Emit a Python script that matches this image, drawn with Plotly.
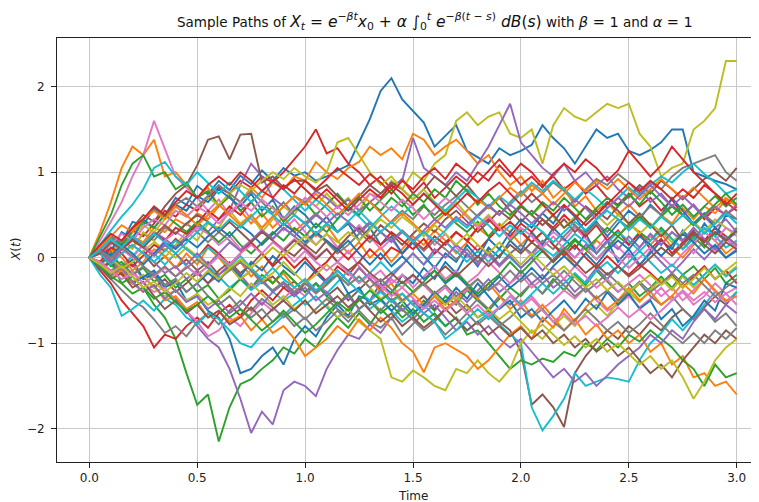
import plotly.graph_objects as go

# Time grid (read at 0.05 steps)
times = [0.0, 0.05, 0.1, 0.15, 0.2, 0.25, 0.3, 0.35, 0.4, 0.45,
         0.5, 0.55, 0.6, 0.65, 0.7, 0.75, 0.8, 0.85, 0.9, 0.95,
         1.0, 1.05, 1.1, 1.15, 1.2, 1.25, 1.3, 1.35, 1.4, 1.45,
         1.5, 1.55, 1.6, 1.65, 1.7, 1.75, 1.8, 1.85, 1.9, 1.95,
         2.0, 2.05, 2.1, 2.15, 2.2, 2.25, 2.3, 2.35, 2.4, 2.45,
         2.5, 2.55, 2.6, 2.65, 2.7, 2.75, 2.8, 2.85, 2.9, 2.95, 3.0]

# ---- sample paths, values ----
blue_a = [0, 0.12, 0.25, 0.18, 0.42, 0.38, 0.58, 0.49, 0.7, 0.62,
          0.84, 0.74, 0.9, 0.79, 0.96, 0.86, 1.02, 0.9, 1.05, 0.96,
          1.0, 0.9, 0.95, 1.02, 1.08, 1.35, 1.62, 1.95, 2.1, 1.85,
          1.72, 1.58, 1.3, 1.42, 1.55, 1.25, 1.18, 1.1, 1.28, 1.2,
          1.25, 1.32, 1.55, 1.4, 1.28, 1.1, 1.3, 1.5, 1.4, 1.45,
          1.25, 1.2, 1.26, 1.35, 1.5, 1.5, 1.0, 0.95, 0.9, 0.86, 0.8]
orange_a = [0, 0.3, 0.65, 1.05, 1.3, 1.2, 1.38, 0.95, 1.0, 0.85,
            0.7, 0.82, 0.6, 0.72, 0.55, 0.4, 0.52, 0.35, 0.48, 0.3,
            0.42, 0.25, 0.38, 0.2, 0.05, 0.18, 0.0, 0.12, -0.05, 0.1,
            0.25, 0.15, 0.32, 0.2, 0.05, 0.18, 0.35, 0.25, 0.4, 0.3,
            0.15, 0.28, 0.1, -0.05, 0.08, -0.1, 0.05, 0.2, 0.1, 0.25,
            0.4, 0.3, 0.15, 0.28, 0.12, 0.0, 0.15, 0.3, 0.2, 0.05, 0.15]
green_a = [0, -0.15, -0.05, -0.3, -0.42, -0.35, -0.55, -0.7, -0.95, -1.35,
           -1.72, -1.6, -2.15, -1.75, -1.48, -1.42, -1.3, -1.2, -1.05, -1.12,
           -0.95, -1.05, -0.85, -0.7, -0.82, -0.65, -0.78, -0.6, -0.72, -0.55,
           -0.68, -0.5, -0.62, -0.45, -0.55, -0.38, -0.5, -0.62, -0.48, -0.35,
           -0.45, -0.3, -0.42, -0.25, -0.38, -0.2, -0.32, -0.15, -0.28, -0.4,
           -0.3, -0.45, -0.35, -0.22, -0.35, -0.2, -0.1, -0.25, -0.12, -0.3, -0.2]
red_a = [0, 0.12, 0.05, 0.2, 0.32, 0.25, 0.4, 0.55, 0.48, 0.62,
         0.55, 0.7, 0.82, 0.75, 0.9, 0.82, 0.95, 0.88, 1.0, 1.15,
         1.3, 1.5, 1.22, 1.28, 1.1, 1.0, 0.85, 0.95, 0.8, 0.92,
         0.75, 0.88, 0.7, 0.82, 0.95, 0.85, 1.0, 0.9, 1.08, 0.95,
         1.1, 1.0, 0.85, 0.95, 0.8, 0.9, 0.75, 0.85, 0.7, 0.62,
         0.75, 0.6, 0.7, 0.55, 0.68, 0.5, 0.62, 0.45, 0.58, 0.5, 0.6]
purple_a = [0, -0.1, 0.05, -0.15, -0.08, -0.25, -0.2, -0.4, -0.48, -0.62,
            -0.8, -0.95, -1.05, -1.3, -1.65, -2.05, -1.8, -1.95, -1.55, -1.45,
            -1.5, -1.62, -1.3, -1.08, -0.9, -0.95, -0.78, -0.88, -0.7, -0.6,
            -0.72, -0.58, -0.45, -0.55, -0.4, -0.52, -0.38, -0.25, -0.4, -0.3,
            -0.15, -0.3, -0.2, -0.35, -0.25, -0.4, -0.28, -0.12, -0.25, -0.1,
            0.05, -0.1, 0.08, -0.05, -0.18, -0.05, 0.1, -0.02, 0.12, 0.0, 0.1]
brown_a = [0, 0.05, -0.08, 0.05, 0.15, 0.05, -0.1, 0.02, -0.12, -0.02,
           -0.15, -0.05, -0.2, -0.1, -0.25, -0.15, -0.3, -0.22, -0.35, -0.28,
           -0.4, -0.3, -0.45, -0.35, -0.5, -0.38, -0.25, -0.38, -0.5, -0.42,
           -0.55, -0.45, -0.6, -0.5, -0.65, -0.55, -0.7, -0.62, -0.75, -0.85,
           -1.1, -1.72, -1.6, -1.75, -1.98, -1.35, -1.15, -1.0, -0.85, -0.95,
           -0.8, -0.9, -0.75, -0.85, -0.7, -0.6, -0.72, -0.58, -0.45, -0.55, -0.4]
pink_a = [0, 0.2, 0.42, 0.65, 0.95, 1.2, 1.6, 1.28, 0.95, 0.82,
          0.7, 0.55, 0.68, 0.5, 0.62, 0.45, 0.35, 0.48, 0.32, 0.45,
          0.3, 0.15, 0.28, 0.12, 0.25, 0.38, 0.25, 0.1, 0.22, 0.05,
          0.18, 0.3, 0.15, 0.28, 0.12, 0.0, 0.15, 0.02, -0.1, 0.05,
          0.15, 0.02, 0.18, 0.3, 0.2, 0.35, 0.22, 0.1, 0.25, 0.12,
          0.0, 0.12, 0.25, 0.15, 0.3, 0.18, 0.05, 0.2, 0.08, 0.22, 0.12]
gray_a = [0, -0.05, 0.08, 0.2, 0.12, 0.28, 0.2, 0.35, 0.28, 0.4,
          0.3, 0.18, 0.3, 0.2, 0.08, 0.2, 0.32, 0.22, 0.35, 0.25,
          0.15, 0.28, 0.18, 0.05, 0.15, 0.28, 0.4, 0.3, 0.42, 0.55,
          0.45, 0.6, 0.5, 0.62, 0.72, 0.6, 0.48, 0.6, 0.5, 0.65,
          0.78, 0.65, 0.75, 0.88, 0.78, 0.65, 0.8, 0.92, 0.85, 0.98,
          0.88, 0.75, 0.88, 0.8, 0.95, 1.05, 1.1, 1.15, 1.2, 1.0, 0.9]
olive_a = [0, -0.1, 0.05, 0.2, 0.1, 0.3, 0.2, 0.0, 0.15, 0.3,
           0.2, 0.4, 0.35, 0.55, 0.4, 0.5, 0.3, 0.45, 0.6, 0.5,
           0.7, 0.6, 0.75, 0.6, 0.7, 0.55, 0.75, 0.7, 0.9, 0.8,
           1.0, 0.9, 1.1, 1.2, 1.6, 1.7, 1.55, 1.65, 1.7, 1.45,
           1.4, 1.5, 1.1, 1.55, 1.75, 1.65, 1.6, 1.7, 1.8, 1.75,
           1.8, 1.45, 1.3, 0.95, 1.05, 1.1, 1.5, 1.6, 1.75, 2.3, 2.3]
cyan_a = [0, -0.08, 0.05, -0.1, 0.02, 0.15, 0.05, -0.08, 0.05, -0.1,
          -0.2, -0.1, -0.22, -0.35, -0.25, -0.38, -0.28, -0.4, -0.5, -0.42,
          -0.55, -0.45, -0.58, -0.7, -0.6, -0.48, -0.6, -0.5, -0.62, -0.75,
          -0.65, -0.55, -0.68, -0.8, -0.7, -0.85, -0.75, -0.65, -0.78, -0.9,
          -1.0, -1.75, -2.02, -1.85, -1.65, -1.35, -1.5, -1.45, -1.4, -1.42,
          -1.45, -1.2, -1.0, -0.88, -0.72, -0.85, -0.7, -0.55, -0.4, -0.52, -0.4]

blue_b = [0, -0.08, 0.05, -0.12, -0.02, -0.25, -0.18, -0.35, -0.28, -0.5,
          -0.45, -0.62, -0.7, -0.95, -1.35, -1.3, -1.15, -1.05, -1.25, -0.95,
          -0.8, -0.92, -0.7, -0.55, -0.68, -0.45, -0.5, -0.3, -0.42, -0.2,
          -0.3, -0.12, -0.25, -0.05, -0.18, 0.05, -0.1, 0.12, 0.0, 0.2,
          0.08, 0.3, 0.15, 0.35, 0.22, 0.1, 0.28, 0.05, 0.2, -0.05,
          0.1, -0.08, 0.05, 0.2, 0.1, 0.32, 0.18, 0.4, 0.25, 0.5, 0.45]
orange_b = [0, 0.1, -0.05, 0.15, 0.25, 0.18, 0.35, 0.3, 0.45, 0.38,
            0.52, 0.45, 0.6, 0.75, 0.65, 0.82, 0.7, 0.88, 0.8, 0.95,
            0.9, 1.12, 1.0, 0.92, 1.05, 1.12, 1.3, 1.2, 1.28, 1.15,
            1.45, 1.38, 1.2, 1.3, 1.38, 1.25, 1.1, 1.2, 1.0, 0.85,
            0.95, 0.78, 0.9, 0.7, 0.82, 0.6, 0.72, 0.55, 0.65, 0.5,
            0.62, 0.48, 0.35, 0.5, 0.4, 0.58, 0.45, 0.6, 0.52, 0.68, 0.62]
green_b = [0, 0.25, 0.5, 0.85, 1.1, 1.2, 0.95, 1.0, 0.8, 0.88,
           0.7, 0.78, 0.6, 0.72, 0.55, 0.65, 0.48, 0.6, 0.42, 0.55,
           0.65, 0.5, 0.62, 0.75, 0.6, 0.7, 0.55, 0.68, 0.8, 0.65,
           0.5, 0.62, 0.45, 0.55, 0.4, 0.3, 0.42, 0.25, 0.38, 0.2,
           0.32, 0.18, 0.3, 0.15, 0.05, 0.2, 0.1, -0.02, 0.12, 0.25,
           0.15, 0.3, 0.2, 0.35, 0.22, 0.1, 0.25, 0.12, 0.3, 0.2, 0.35]
red_b = [0, -0.15, -0.3, -0.5, -0.65, -0.8, -1.05, -0.9, -0.95, -0.8,
         -0.7, -0.82, -0.65, -0.55, -0.68, -0.5, -0.38, -0.5, -0.35, -0.45,
         -0.3, -0.15, -0.28, -0.1, -0.2, -0.05, 0.1, -0.02, 0.12, 0.05,
         0.2, 0.1, 0.25, 0.15, 0.3, 0.2, 0.08, 0.22, 0.35, 0.25,
         0.4, 0.3, 0.45, 0.35, 0.5, 0.38, 0.25, 0.38, 0.2, 0.32,
         0.15, 0.28, 0.1, 0.22, 0.05, 0.18, 0.3, 0.2, 0.35, 0.25, 0.15]
purple_b = [0, 0.05, 0.18, 0.1, 0.25, 0.15, 0.3, 0.22, 0.12, 0.25,
            0.38, 0.3, 0.45, 0.55, 0.85, 1.1, 0.95, 0.7, 0.6, 0.72,
            0.65, 0.78, 0.7, 0.58, 0.68, 0.55, 0.65, 0.75, 0.85, 0.9,
            1.4, 1.05, 0.95, 0.85, 1.0, 0.9, 1.1, 1.3, 1.55, 1.8,
            1.35, 1.2, 1.05, 0.95, 1.1, 0.9, 1.0, 0.85, 0.95, 0.8,
            0.7, 0.82, 0.65, 0.75, 0.6, 0.5, 0.62, 0.48, 0.35, 0.45, 0.3]
brown_b = [0, 0.12, 0.25, 0.15, 0.35, 0.5, 0.42, 0.6, 0.75, 0.85,
           1.08, 1.38, 1.42, 1.15, 1.44, 1.45, 0.88, 0.95, 0.82, 0.9,
           0.9, 0.78, 0.85, 0.72, 0.6, 0.72, 0.85, 0.75, 0.88, 0.8,
           0.68, 0.8, 0.95, 0.85, 0.72, 0.85, 0.7, 0.58, 0.7, 0.55,
           0.42, 0.55, 0.45, 0.32, 0.45, 0.3, 0.42, 0.55, 0.45, 0.6,
           0.72, 0.85, 0.75, 0.9, 0.8, 0.68, 0.8, 0.92, 1.0, 0.9, 1.05]
pink_b = [0, -0.1, -0.05, -0.2, -0.15, -0.3, -0.4, -0.35, -0.5, -0.62,
          -0.75, -0.92, -0.85, -0.7, -0.8, -0.65, -0.52, -0.62, -0.48, -0.35,
          -0.45, -0.3, -0.4, -0.55, -0.42, -0.6, -0.5, -0.38, -0.25, -0.35,
          -0.2, -0.32, -0.45, -0.35, -0.5, -0.38, -0.25, -0.38, -0.3, -0.42,
          -0.55, -0.45, -0.6, -0.5, -0.38, -0.48, -0.35, -0.5, -0.62, -0.55,
          -0.45, -0.58, -0.48, -0.35, -0.5, -0.4, -0.55, -0.45, -0.3, -0.42, -0.35]
gray_b = [0, -0.12, -0.25, -0.38, -0.5, -0.58, -0.72, -0.88, -0.8, -0.92,
          -0.75, -0.65, -0.78, -0.62, -0.5, -0.62, -0.48, -0.58, -0.7, -0.6,
          -0.72, -0.6, -0.48, -0.6, -0.7, -0.62, -0.75, -0.82, -0.7, -0.9,
          -0.78, -0.65, -0.75, -0.6, -0.5, -0.62, -0.48, -0.6, -0.45, -0.55,
          -0.42, -0.3, -0.42, -0.28, -0.15, -0.28, -0.4, -0.3, -0.18, -0.3,
          -0.42, -0.3, -0.45, -0.55, -0.45, -0.6, -0.72, -0.6, -0.75, -0.65, -0.8]
olive_b = [0, 0.08, 0.18, 0.1, 0.25, 0.38, 0.3, 0.45, 0.55, 0.48,
           0.6, 0.7, 0.62, 0.75, 0.85, 0.78, 0.9, 1.0, 0.92, 1.05,
           0.95, 0.88, 1.0, 1.35, 1.4, 1.2, 1.0, 0.85, 0.95, 0.8,
           0.68, 0.8, 0.65, 0.52, 0.65, 0.5, 0.38, 0.5, 0.35, 0.48,
           0.6, 0.5, 0.62, 0.48, 0.35, 0.48, 0.6, 0.5, 0.38, 0.5,
           0.4, 0.28, 0.4, 0.3, 0.18, 0.3, 0.42, 0.3, 0.45, 0.35, 0.25]
cyan_b = [0, -0.2, -0.35, -0.68, -0.6, -0.5, -0.62, -0.48, -0.55, -0.7,
          -0.78, -0.65, -0.72, -0.85, -1.0, -1.05, -0.9, -0.8, -0.68, -0.55,
          -0.45, -0.3, -0.42, -0.28, -0.15, -0.28, -0.18, -0.05, -0.18, -0.08,
          0.05, -0.08, 0.05, 0.18, 0.08, -0.05, 0.08, -0.05, 0.1, 0.0,
          -0.12, 0.0, 0.12, 0.02, 0.15, 0.28, 0.18, 0.05, 0.18, 0.3,
          0.2, 0.08, 0.2, 0.32, 0.22, 0.1, 0.22, 0.35, 0.25, 0.12, 0.2]

blue_c = [0, 0.15, 0.08, 0.3, 0.22, 0.45, 0.35, 0.5, 0.62, 0.55,
          0.72, 0.65, 0.8, 0.7, 0.6, 0.75, 0.55, 0.68, 0.45, 0.6,
          0.5, 0.35, 0.48, 0.3, 0.4, 0.2, 0.35, 0.15, 0.25, 0.05,
          0.18, 0.02, -0.12, 0.05, -0.05, 0.15, 0.0, 0.22, 0.1, 0.3,
          0.45, 0.35, 0.52, 0.4, 0.6, 0.48, 0.3, 0.42, 0.25, 0.4,
          0.55, 0.45, 0.62, 0.5, 0.7, 0.55, 0.4, 0.52, 0.35, 0.2, 0.3]
orange_c = [0, -0.05, 0.1, 0.0, -0.15, -0.05, 0.1, 0.02, -0.12, 0.05,
            -0.08, 0.12, 0.0, -0.15, -0.05, -0.22, -0.1, -0.3, -0.18, -0.35,
            -0.25, -0.4, -0.3, -0.15, -0.28, -0.12, -0.25, -0.4, -0.3, -0.5,
            -0.42, -0.55, -0.45, -0.6, -0.5, -0.35, -0.48, -0.3, -0.45, -0.6,
            -0.5, -0.68, -0.55, -0.7, -0.85, -0.72, -0.9, -0.78, -0.95, -0.85,
            -1.0, -0.9, -1.1, -1.0, -1.25, -1.15, -1.4, -1.35, -1.5, -1.45, -1.6]
green_c = [0, 0.05, -0.1, -0.05, -0.2, -0.12, -0.28, -0.2, -0.35, -0.25,
           -0.4, -0.32, -0.48, -0.38, -0.25, -0.35, -0.2, -0.3, -0.15, -0.28,
           -0.4, -0.3, -0.45, -0.55, -0.42, -0.6, -0.5, -0.65, -0.55, -0.7,
           -0.6, -0.75, -0.65, -0.8, -0.7, -0.9, -0.85, -1.0, -1.15, -1.3,
           -1.2, -1.25, -1.18, -1.22, -1.1, -1.15, -1.0, -1.08, -0.95, -1.05,
           -0.9, -0.98, -0.85, -0.95, -1.05, -1.2, -1.3, -1.5, -1.25, -1.4, -1.35]
red_c = [0, 0.08, -0.05, 0.1, 0.2, 0.12, 0.28, 0.2, 0.35, 0.28,
         0.4, 0.55, 0.45, 0.6, 0.5, 0.65, 0.78, 0.7, 0.85, 0.75,
         0.9, 0.8, 0.92, 1.05, 0.95, 0.85, 0.98, 0.88, 0.75, 0.9,
         0.8, 0.95, 1.05, 0.92, 1.1, 1.0, 0.88, 1.02, 1.15, 1.0,
         0.85, 0.95, 0.82, 0.98, 1.1, 1.0, 1.15, 1.05, 0.9, 1.02,
         1.25, 1.1, 0.95, 1.08, 1.3, 1.15, 1.0, 0.88, 0.75, 0.65, 0.55]
purple_c = [0, 0.1, -0.02, -0.15, -0.05, 0.08, -0.05, -0.18, -0.1, -0.25,
            -0.15, -0.3, -0.2, -0.08, -0.2, -0.35, -0.25, -0.4, -0.3, -0.45,
            -0.35, -0.5, -0.4, -0.55, -0.45, -0.6, -0.5, -0.38, -0.5, -0.62,
            -0.5, -0.65, -0.55, -0.7, -0.85, -0.75, -0.9, -0.8, -0.95, -1.05,
            -0.95, -1.1, -1.25, -1.4, -1.3, -1.45, -1.35, -1.5, -1.38, -1.25,
            -1.15, -1.05, -0.9, -1.0, -0.85, -0.95, -0.75, -0.6, -0.72, -0.55, -0.65]
brown_c = [0, -0.12, -0.05, -0.2, -0.3, -0.22, -0.35, -0.25, -0.4, -0.3,
           -0.18, -0.3, -0.15, -0.05, -0.18, -0.08, 0.05, -0.08, 0.1, 0.02,
           0.15, 0.05, 0.2, 0.1, 0.25, 0.35, 0.22, 0.38, 0.28, 0.15,
           0.28, 0.4, 0.3, 0.45, 0.55, 0.42, 0.3, 0.42, 0.55, 0.45,
           0.6, 0.5, 0.38, 0.5, 0.35, 0.45, 0.6, 0.5, 0.65, 0.55,
           0.4, 0.52, 0.38, 0.25, 0.38, 0.2, 0.32, 0.15, 0.05, 0.18, 0.1]
pink_c = [0, 0.08, 0.2, 0.1, 0.0, 0.15, 0.05, 0.2, 0.3, 0.22,
          0.35, 0.28, 0.15, 0.25, 0.1, 0.2, 0.32, 0.2, 0.1, 0.22,
          0.12, 0.0, 0.1, -0.05, 0.08, -0.1, -0.25, -0.15, -0.3, -0.2,
          -0.35, -0.22, -0.1, -0.25, -0.15, -0.3, -0.2, -0.05, -0.18, -0.3,
          -0.2, -0.35, -0.25, -0.12, -0.25, -0.1, -0.22, -0.35, -0.25, -0.4,
          -0.3, -0.2, -0.32, -0.45, -0.35, -0.5, -0.38, -0.25, -0.4, -0.52, -0.45]
gray_c = [0, 0.1, 0.25, 0.18, 0.32, 0.45, 0.55, 0.48, 0.62, 0.7,
          0.6, 0.72, 0.85, 0.75, 0.65, 0.78, 0.65, 0.52, 0.65, 0.5,
          0.4, 0.52, 0.4, 0.3, 0.42, 0.3, 0.18, 0.3, 0.2, 0.32,
          0.2, 0.08, 0.2, 0.1, -0.02, 0.1, -0.05, 0.08, -0.08, 0.05,
          0.15, 0.05, 0.2, 0.1, 0.25, 0.38, 0.28, 0.4, 0.3, 0.45,
          0.35, 0.48, 0.6, 0.5, 0.62, 0.5, 0.38, 0.5, 0.4, 0.55, 0.45]
olive_c = [0, -0.1, -0.2, -0.12, -0.28, -0.2, -0.35, -0.45, -0.38, -0.5,
           -0.42, -0.55, -0.48, -0.35, -0.45, -0.3, -0.42, -0.55, -0.45, -0.6,
           -0.5, -0.65, -0.55, -0.7, -0.6, -0.75, -0.85, -0.95, -1.4, -1.45,
           -1.32, -1.4, -1.5, -1.55, -1.3, -1.35, -1.2, -1.35, -1.45, -1.3,
           -1.0, -0.85, -0.95, -0.8, -0.68, -0.8, -0.65, -0.55, -0.68, -0.52,
           -0.4, -0.52, -0.38, -0.25, -0.38, -0.22, -0.35, -0.2, -0.08, -0.2, -0.1]
cyan_c = [0, 0.15, 0.32, 0.48, 0.62, 0.8, 1.05, 1.12, 0.95, 0.85,
          1.0, 0.88, 0.75, 0.88, 0.78, 0.65, 0.78, 0.9, 0.8, 0.68,
          0.55, 0.68, 0.58, 0.45, 0.58, 0.48, 0.35, 0.48, 0.6, 0.5,
          0.62, 0.75, 0.65, 0.55, 0.68, 0.8, 0.7, 0.6, 0.72, 0.62,
          0.75, 0.88, 0.78, 0.9, 0.8, 0.68, 0.8, 0.7, 0.58, 0.7,
          0.82, 0.72, 0.85, 0.95, 0.88, 1.0, 1.1, 0.98, 0.88, 0.75, 0.8]

blue_d = [0, -0.12, -0.2, -0.1, -0.3, -0.22, -0.15, -0.32, -0.25, -0.4,
          -0.3, -0.18, -0.28, -0.1, -0.22, -0.05, -0.15, 0.02, -0.1, -0.2,
          -0.05, -0.18, -0.3, -0.2, -0.42, -0.35, -0.55, -0.48, -0.62, -0.5,
          -0.65, -0.55, -0.4, -0.52, -0.35, -0.48, -0.3, -0.45, -0.6, -0.5,
          -0.7, -0.6, -0.75, -0.62, -0.5, -0.65, -0.48, -0.6, -0.4, -0.55,
          -0.42, -0.6, -0.5, -0.72, -0.6, -0.8, -0.68, -0.5, -0.62, -0.3, -0.35]
orange_d = [0, -0.1, -0.22, -0.15, -0.3, -0.4, -0.32, -0.5, -0.45, -0.6,
            -0.52, -0.7, -0.62, -0.75, -0.68, -0.85, -0.72, -0.88, -0.8, -0.95,
            -1.15, -1.05, -0.95, -0.8, -0.9, -0.72, -0.85, -0.7, -0.82, -1.0,
            -1.1, -1.34, -1.05, -1.0, -1.08, -1.15, -1.3, -1.2, -1.05, -0.9,
            -0.8, -0.95, -0.7, -0.82, -0.6, -0.75, -0.58, -0.45, -0.6, -0.5,
            -0.35, -0.5, -0.4, -0.55, -0.45, -0.3, -0.42, -0.25, -0.38, -0.5, -0.45]
green_d = [0, 0.1, 0.22, 0.15, 0.3, 0.42, 0.35, 0.5, 0.4, 0.3,
           0.42, 0.3, 0.18, 0.3, 0.15, 0.05, 0.18, 0.3, 0.2, 0.35,
           0.25, 0.4, 0.3, 0.45, 0.6, 0.5, 0.65, 0.55, 0.7, 0.6,
           0.75, 0.65, 0.8, 0.7, 0.9, 0.78, 0.62, 0.75, 0.6, 0.5,
           0.62, 0.5, 0.65, 0.55, 0.7, 0.58, 0.45, 0.58, 0.7, 0.6,
           0.75, 0.62, 0.78, 0.65, 0.5, 0.62, 0.48, 0.6, 0.72, 0.6, 0.7]
red_d = [0, -0.05, 0.12, 0.05, -0.1, 0.02, 0.15, 0.08, 0.22, 0.1,
         0.0, 0.15, 0.05, -0.08, 0.05, 0.18, 0.05, -0.1, 0.02, -0.12,
         0.0, -0.15, -0.05, 0.1, -0.02, 0.12, 0.25, 0.15, 0.3, 0.2,
         0.1, 0.22, 0.05, 0.18, 0.3, 0.2, 0.35, 0.45, 0.32, 0.42,
         0.3, 0.18, 0.3, 0.15, 0.02, 0.15, 0.0, -0.12, 0.02, -0.1,
         -0.2, -0.08, -0.18, -0.3, -0.2, -0.35, -0.22, -0.1, -0.25, -0.15, -0.3]
purple_d = [0, -0.08, -0.2, -0.12, -0.28, -0.4, -0.32, -0.48, -0.38, -0.52,
            -0.45, -0.6, -0.5, -0.65, -0.55, -0.42, -0.55, -0.4, -0.3, -0.42,
            -0.28, -0.4, -0.25, -0.15, -0.28, -0.12, -0.25, -0.35, -0.22, -0.08,
            0.05, -0.08, 0.1, 0.0, 0.15, 0.05, -0.08, 0.05, -0.1, 0.02,
            -0.12, 0.0, -0.15, -0.02, 0.12, 0.0, 0.15, 0.05, 0.2, 0.1,
            0.25, 0.12, 0.28, 0.15, 0.3, 0.2, 0.35, 0.22, 0.1, 0.25, 0.15]
brown_d = [0, -0.1, -0.25, -0.18, -0.35, -0.28, -0.45, -0.6, -0.5, -0.65,
           -0.55, -0.7, -0.62, -0.78, -0.7, -0.58, -0.72, -0.6, -0.5, -0.62,
           -0.5, -0.65, -0.55, -0.45, -0.58, -0.48, -0.62, -0.75, -0.65, -0.8,
           -0.7, -0.82, -0.72, -0.6, -0.72, -0.85, -0.75, -0.9, -0.8, -0.92,
           -0.82, -0.95, -0.85, -1.0, -0.9, -1.05, -0.95, -1.1, -1.0, -1.15,
           -1.05, -1.2, -1.35, -1.25, -1.4, -1.2, -1.05, -0.9, -1.0, -0.85, -0.95]
pink_d = [0, 0.05, 0.15, 0.28, 0.2, 0.35, 0.45, 0.38, 0.55, 0.48,
          0.6, 0.52, 0.4, 0.52, 0.65, 0.55, 0.68, 0.58, 0.45, 0.58,
          0.7, 0.6, 0.48, 0.6, 0.5, 0.62, 0.75, 0.65, 0.55, 0.68,
          0.58, 0.45, 0.58, 0.7, 0.6, 0.48, 0.35, 0.48, 0.35, 0.22,
          0.35, 0.25, 0.12, 0.25, 0.1, 0.0, 0.12, -0.02, 0.1, 0.0,
          -0.12, 0.0, 0.12, 0.02, -0.1, 0.05, 0.18, 0.3, 0.2, 0.35, 0.28]
gray_d = [0, -0.05, -0.15, -0.08, -0.2, -0.1, -0.22, -0.32, -0.25, -0.4,
          -0.3, -0.45, -0.55, -0.45, -0.6, -0.7, -0.6, -0.75, -0.65, -0.8,
          -0.7, -0.85, -0.75, -0.62, -0.75, -0.6, -0.5, -0.62, -0.48, -0.6,
          -0.72, -0.85, -0.75, -0.9, -0.78, -0.65, -0.78, -0.68, -0.8, -0.7,
          -0.58, -0.7, -0.6, -0.75, -0.85, -0.72, -0.6, -0.72, -0.85, -0.75,
          -0.88, -0.78, -0.65, -0.78, -0.9, -1.0, -0.88, -1.0, -0.85, -0.95, -0.82]
olive_d = [0, 0.1, 0.0, -0.12, -0.05, 0.08, 0.18, 0.1, 0.0, 0.12,
           0.02, -0.1, 0.02, -0.12, -0.25, -0.15, -0.28, -0.18, -0.05, -0.18,
           -0.3, -0.2, -0.08, -0.2, -0.32, -0.22, -0.35, -0.48, -0.4, -0.52,
           -0.42, -0.3, -0.42, -0.55, -0.45, -0.58, -0.7, -0.6, -0.72, -0.62,
           -0.75, -0.88, -0.78, -0.9, -1.02, -0.92, -1.05, -0.95, -1.1, -1.0,
           -1.12, -1.25, -1.15, -1.3, -1.2, -1.4, -1.65, -1.45, -1.2, -1.05, -0.95]
cyan_d = [0, 0.05, -0.08, 0.05, 0.15, 0.05, -0.05, 0.08, 0.2, 0.1,
          0.0, 0.12, 0.02, -0.1, 0.02, -0.12, -0.25, -0.12, -0.25, -0.35,
          -0.25, -0.38, -0.28, -0.15, -0.28, -0.4, -0.5, -0.4, -0.52, -0.42,
          -0.55, -0.65, -0.75, -0.95, -0.85, -0.72, -0.6, -0.72, -0.58, -0.45,
          -0.55, -0.42, -0.3, -0.42, -0.3, -0.18, -0.3, -0.15, -0.05, -0.18,
          -0.05, 0.08, -0.05, -0.18, -0.08, -0.2, -0.32, -0.2, -0.08, -0.22, -0.12]

blue_e = [0, 0.1, 0.02, 0.15, 0.05, -0.08, 0.05, 0.18, 0.1, 0.22,
          0.12, 0.25, 0.35, 0.25, 0.38, 0.28, 0.15, 0.28, 0.4, 0.3,
          0.18, 0.3, 0.2, 0.08, 0.2, 0.05, -0.08, 0.05, -0.1, 0.02,
          -0.12, -0.25, -0.15, -0.3, -0.2, -0.32, -0.45, -0.35, -0.22, -0.35,
          -0.25, -0.12, -0.25, -0.1, 0.02, -0.1, 0.05, -0.08, 0.08, 0.2,
          0.1, 0.25, 0.15, 0.02, 0.15, 0.28, 0.18, 0.05, 0.15, 0.0, 0.08]
orange_e = [0, 0.12, 0.25, 0.38, 0.3, 0.45, 0.55, 0.45, 0.6, 0.5,
            0.38, 0.5, 0.62, 0.5, 0.38, 0.5, 0.35, 0.48, 0.6, 0.72,
            0.62, 0.75, 0.62, 0.5, 0.62, 0.75, 0.65, 0.52, 0.4, 0.52,
            0.4, 0.28, 0.4, 0.52, 0.42, 0.55, 0.68, 0.58, 0.7, 0.82,
            0.72, 0.85, 0.75, 0.62, 0.75, 0.88, 0.78, 0.9, 0.8, 0.92,
            0.8, 0.68, 0.8, 0.92, 0.8, 0.7, 0.82, 0.7, 0.58, 0.7, 0.6]
green_e = [0, -0.1, -0.22, -0.3, -0.22, -0.35, -0.48, -0.4, -0.52, -0.62,
           -0.55, -0.45, -0.58, -0.7, -0.6, -0.72, -0.85, -0.75, -0.62, -0.75,
           -0.88, -0.78, -0.65, -0.52, -0.62, -0.5, -0.38, -0.5, -0.4, -0.28,
           -0.4, -0.28, -0.15, -0.28, -0.18, -0.3, -0.42, -0.3, -0.2, -0.05,
           -0.18, -0.05, 0.08, -0.05, 0.1, 0.22, 0.1, 0.22, 0.35, 0.25,
           0.38, 0.48, 0.35, 0.48, 0.6, 0.5, 0.38, 0.5, 0.62, 0.75, 0.62]
red_e = [0, 0.15, 0.28, 0.2, 0.35, 0.45, 0.6, 0.5, 0.65, 0.78,
         0.7, 0.85, 0.95, 0.85, 1.0, 0.9, 0.78, 0.9, 0.8, 0.92,
         0.8, 0.68, 0.8, 0.68, 0.55, 0.68, 0.8, 0.7, 0.85, 0.75,
         0.62, 0.75, 0.62, 0.5, 0.62, 0.75, 0.65, 0.78, 0.88, 0.75,
         0.62, 0.75, 0.62, 0.5, 0.62, 0.5, 0.38, 0.5, 0.62, 0.75,
         0.88, 0.78, 0.9, 0.8, 0.68, 0.8, 0.7, 0.85, 0.75, 0.62, 0.75]
purple_e = [0, 0.08, -0.05, 0.1, 0.22, 0.12, 0.02, 0.15, 0.05, -0.08,
            0.05, -0.08, 0.05, 0.18, 0.08, 0.2, 0.32, 0.22, 0.35, 0.25,
            0.38, 0.5, 0.4, 0.52, 0.42, 0.3, 0.42, 0.3, 0.18, 0.3,
            0.2, 0.32, 0.45, 0.35, 0.48, 0.38, 0.5, 0.62, 0.5, 0.62,
            0.52, 0.4, 0.52, 0.65, 0.55, 0.68, 0.58, 0.45, 0.58, 0.7,
            0.6, 0.72, 0.85, 0.72, 0.6, 0.72, 0.6, 0.48, 0.6, 0.5, 0.62]
brown_e = [0, 0.05, 0.18, 0.1, 0.22, 0.12, 0.25, 0.38, 0.28, 0.4,
           0.5, 0.42, 0.3, 0.42, 0.3, 0.18, 0.3, 0.2, 0.08, 0.2,
           0.1, -0.02, 0.1, -0.05, -0.15, -0.05, -0.18, -0.28, -0.18, -0.3,
           -0.2, -0.32, -0.22, -0.1, -0.22, -0.1, 0.02, -0.1, 0.02, 0.15,
           0.05, 0.18, 0.08, -0.05, 0.08, -0.05, -0.18, -0.08, -0.2, -0.1,
           -0.22, -0.12, 0.0, 0.12, 0.02, 0.15, 0.28, 0.18, 0.3, 0.2, 0.32]
pink_e = [0, -0.05, -0.15, -0.25, -0.18, -0.3, -0.22, -0.12, -0.22, -0.1,
          -0.2, -0.1, 0.02, -0.08, 0.05, 0.15, 0.05, 0.18, 0.08, -0.05,
          0.08, -0.05, -0.15, -0.05, -0.18, -0.3, -0.2, -0.32, -0.45, -0.35,
          -0.48, -0.6, -0.5, -0.62, -0.52, -0.65, -0.55, -0.68, -0.58, -0.45,
          -0.58, -0.48, -0.62, -0.75, -0.65, -0.78, -0.68, -0.8, -0.7, -0.58,
          -0.7, -0.6, -0.72, -0.62, -0.5, -0.38, -0.5, -0.4, -0.52, -0.42, -0.55]
gray_e = [0, 0.08, 0.0, 0.12, 0.02, -0.1, -0.2, -0.1, -0.22, -0.12,
          -0.02, -0.12, -0.25, -0.15, -0.05, -0.15, -0.28, -0.38, -0.28, -0.4,
          -0.3, -0.42, -0.32, -0.2, -0.32, -0.22, -0.35, -0.25, -0.38, -0.5,
          -0.4, -0.3, -0.42, -0.32, -0.45, -0.35, -0.25, -0.38, -0.28, -0.15,
          -0.28, -0.18, -0.3, -0.2, -0.32, -0.45, -0.35, -0.48, -0.38, -0.5,
          -0.4, -0.28, -0.4, -0.3, -0.18, -0.3, -0.2, -0.32, -0.45, -0.35, -0.25]
olive_e = [0, -0.08, -0.18, -0.1, -0.22, -0.35, -0.28, -0.4, -0.3, -0.18,
           -0.28, -0.15, -0.25, -0.12, -0.02, -0.12, 0.0, 0.12, 0.02, 0.15,
           0.25, 0.15, 0.28, 0.18, 0.3, 0.2, 0.32, 0.45, 0.35, 0.48,
           0.38, 0.25, 0.38, 0.28, 0.15, 0.28, 0.15, 0.05, 0.18, 0.05,
           -0.08, 0.05, -0.08, -0.2, -0.1, -0.22, -0.35, -0.25, -0.38, -0.28,
           -0.4, -0.3, -0.2, -0.32, -0.22, -0.35, -0.25, -0.12, -0.25, -0.15, -0.05]
cyan_e = [0, 0.1, 0.22, 0.12, 0.25, 0.15, 0.28, 0.18, 0.05, 0.18,
          0.3, 0.42, 0.32, 0.45, 0.35, 0.48, 0.6, 0.5, 0.38, 0.5,
          0.4, 0.28, 0.4, 0.3, 0.42, 0.55, 0.42, 0.3, 0.42, 0.3,
          0.18, 0.3, 0.2, 0.32, 0.45, 0.35, 0.48, 0.38, 0.25, 0.38,
          0.28, 0.4, 0.3, 0.18, 0.3, 0.42, 0.32, 0.45, 0.55, 0.45,
          0.32, 0.45, 0.35, 0.48, 0.38, 0.5, 0.4, 0.28, 0.4, 0.52, 0.4]

# matplotlib default colour cycle
palette = ["#1f77b4", "#ff7f0e", "#2ca02c", "#d62728", "#9467bd",
           "#8c564b", "#e377c2", "#7f7f7f", "#bcbd22", "#17becf"]

paths = [blue_a, orange_a, green_a, red_a, purple_a, brown_a, pink_a, gray_a, olive_a, cyan_a,
         blue_b, orange_b, green_b, red_b, purple_b, brown_b, pink_b, gray_b, olive_b, cyan_b,
         blue_c, orange_c, green_c, red_c, purple_c, brown_c, pink_c, gray_c, olive_c, cyan_c,
         blue_d, orange_d, green_d, red_d, purple_d, brown_d, pink_d, gray_d, olive_d, cyan_d,
         blue_e, orange_e, green_e, red_e, purple_e, brown_e, pink_e, gray_e, olive_e, cyan_e]

fig = go.Figure()
for i, vals in enumerate(paths):
    if len(vals) != len(times):
        raise ValueError(f"path {i} has {len(vals)} values")
    fig.add_trace(go.Scatter(x=times, y=vals, mode="lines",
                             line=dict(color=palette[i % 10], width=1.9),
                             showlegend=False, hoverinfo="skip"))

# the page body adds an 8 px offset, so the figure is sized to fill the window
OFF = 8
W, H = 759 - OFF, 502 - OFF
ML, MR, MT, MB = 57 - OFF, 0, 38 - OFF, 40
x0_px, x_unit = 89.3 - OFF, 215.8
y0_px, y_unit = 257.7 - OFF, 85.5
x_range = [(ML - x0_px) / x_unit, (W - MR - x0_px) / x_unit]
y_range = [(y0_px - (H - MB)) / y_unit, (y0_px - MT) / y_unit]

font_family = "DejaVu Sans"
axis_common = dict(showgrid=True, gridcolor="#c8c8c8", gridwidth=1, automargin=False,
                   zeroline=False, showline=True, linecolor="#222222", linewidth=1,
                   ticks="outside", ticklen=5, tickwidth=1, tickcolor="#222222",
                   tickfont=dict(family=font_family, size=12, color="#222222"))

fig.update_layout(
    width=W, height=H,
    margin=dict(l=ML, r=MR, t=MT, b=MB, pad=0, autoexpand=False),
    paper_bgcolor="white", plot_bgcolor="white",
    font=dict(family=font_family, color="#222222"),
    xaxis=dict(range=x_range, dtick=0.5, tick0=0, tickformat=".1f", mirror=True, **axis_common),
    yaxis=dict(range=y_range, dtick=1, tick0=0, ticklabelstandoff=4, **axis_common),
)

plot_w = W - ML - MR
axes_center = ((57.3 + 769) / 2 - 57) / plot_w

title_math = ("<span style=\"font-size:15.5px\"><i>X<sub>t</sub></i> = <i>e</i><sup>−<i>βt</i></sup>"
              "<i>x</i><sub>0</sub> + <i>α</i> ∫<sub>0</sub><sup><i>t</i></sup> "
              "<i>e</i><sup>−<i>β</i>(<i>t</i> − <i>s</i>)</sup> <i>dB</i>(<i>s</i>)</span>")
title_tail = (" with <span style=\"font-size:14.5px\"><i>β</i> = 1</span> and "
              "<span style=\"font-size:14.5px\"><i>α</i> = 1</span>")

fig.add_annotation(
    text="Sample Paths of " + title_math + title_tail,
    xref="paper", yref="paper", x=(435 - 57) / plot_w, y=1, yshift=3,
    xanchor="center", yanchor="bottom", showarrow=False,
    font=dict(family=font_family, size=13.5, color="#111111"))
fig.add_annotation(text="Time", xref="paper", yref="paper", x=axes_center, y=0,
                   yshift=-25, xanchor="center", yanchor="top", showarrow=False,
                   font=dict(family=font_family, size=12, color="#222222"))
fig.add_annotation(text="<i>X</i>(<i>t</i>)", xref="paper", yref="paper", x=0, y=0.5,
                   xshift=-32, xanchor="right", yanchor="middle", textangle=-90, showarrow=False,
                   font=dict(family=font_family, size=12, color="#222222"))

fig.write_html("out.html")
